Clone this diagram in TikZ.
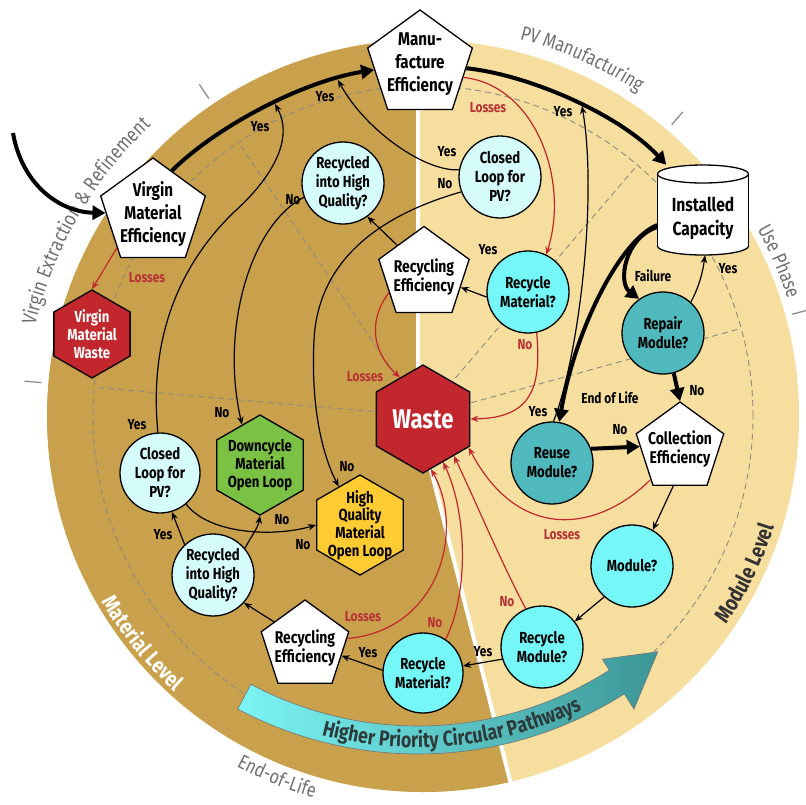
\documentclass[tikz,border=0pt]{standalone}
\usepackage{fontspec}
\setmainfont{Fira Sans}[FakeStretch=0.82]
\usetikzlibrary{shapes.geometric,arrows.meta,decorations.text,calc}
\definecolor{darkgold}{HTML}{C9A04C}
\definecolor{lightgold}{HTML}{F6DE9E}
\definecolor{lcyan}{HTML}{D6FBFB}
\definecolor{cyanc}{HTML}{75F7F7}
\definecolor{tealc}{HTML}{50B9BD}
\definecolor{redc}{HTML}{C1272D}
\definecolor{greenc}{HTML}{7BC143}
\definecolor{yellowc}{HTML}{FFCB33}
\definecolor{lossred}{HTML}{B83236}
\definecolor{outergray}{HTML}{707070}
\definecolor{dashgray}{HTML}{8C8C80}
\definecolor{bandL}{HTML}{7CF5F5}
\definecolor{bandR}{HTML}{3C9696}
\definecolor{bandtext}{HTML}{2E3A3A}
\definecolor{modtext}{HTML}{333333}
\begin{document}
\begin{tikzpicture}[x=1pt,y=-1pt,
  pent/.style={regular polygon,regular polygon sides=5,draw=black,fill=white,line width=1.3pt,inner sep=0pt},
  hexa/.style={regular polygon,regular polygon sides=6,shape border rotate=30,draw=black,line width=1.3pt,inner sep=0pt},
  qcirc/.style={circle,draw=black,line width=1.3pt,minimum size=82pt,inner sep=0pt},
  txt/.style={align=center,inner sep=0pt,font=\bfseries\fontsize{16}{19}\selectfont},
  ptxt/.style={align=center,inner sep=0pt,font=\bfseries\fontsize{17}{19.5}\selectfont},
  bigtxt/.style={align=center,inner sep=0pt,font=\bfseries\fontsize{18.5}{23}\selectfont},
  lab/.style={inner sep=0pt,font=\bfseries\fontsize{14.5}{16}\selectfont},
  loss/.style={lab,text=lossred},
  bigarr/.style={line width=4pt,-{Triangle[length=13pt,width=14pt]}},
  arr/.style={line width=1.2pt,-{Stealth[length=8pt,width=6.5pt]}},
  redarr/.style={arr,draw=redc},
  dashline/.style={draw=dashgray,line width=0.9pt,dash pattern=on 6pt off 4pt},
  tickmark/.style={draw=outergray!80,line width=1.3pt},
]
\useasboundingbox (0,0) rectangle (806,804);
\coordinate (ctr) at (423,416);
% background disc
\fill[lightgold] (ctr) circle[radius=376pt];
\begin{scope}
\clip (ctr) circle[radius=376pt];
\fill[darkgold] (0,0) -- (418,0) -- (418,419) -- (516,804) -- (0,804) -- cycle;
\end{scope}
\draw[white,line width=4pt] (418,0) -- (418,419) -- (516,804);
% dashed ring and spokes
\draw[dashline] (ctr) circle[radius=330pt];
\foreach \a in {-175,-124,-49.5,-15.4} {
  \draw[dashline] (ctr) -- ($(ctr)+(\a:330)$);
  \draw[tickmark] ($(ctr)+(\a:383)$) -- ($(ctr)+(\a:400)$);
}
% outer labels
\path[decorate,decoration={text along path,text align=center,
  text={|\fontsize{20.5}{24}\selectfont\color{outergray}|Virgin Extraction {\&} Refinement}}]
  plot[domain=-177:-123,samples=60] ({423+398*cos(\x)},{416+398*sin(\x)});
\path[decorate,decoration={text along path,text align=center,
  text={|\fontsize{20}{24}\selectfont\color{outergray}|PV Manufacturing}}]
  plot[domain=-92:-40,samples=60] ({423+389*cos(\x)},{416+389*sin(\x)});
\path[decorate,decoration={text along path,text align=center,
  text={|\fontsize{20}{24}\selectfont\color{outergray}|Use Phase}}]
  plot[domain=-40:-7,samples=40] ({423+383*cos(\x)},{416+383*sin(\x)});
\path[decorate,decoration={text along path,text align=center,
  text={|\fontsize{20}{24}\selectfont\color{outergray}|End-of-Life}}]
  plot[domain=130:94,samples=40] ({423+397*cos(\x)},{416+397*sin(\x)});
\path[decorate,decoration={text along path,text align=center,
  text={|\bfseries\fontsize{22}{26}\selectfont\color{white}|Material Level}}]
  plot[domain=165:117,samples=50] ({423+371*cos(\x)},{416+371*sin(\x)});
\path[decorate,decoration={text along path,text align=center,
  text={|\bfseries\fontsize{22}{26}\selectfont\color{modtext}|Module Level}}]
  plot[domain=48:4,samples=50] ({423+368*cos(\x)},{416+368*sin(\x)});
% priority band
\shadedraw[left color=bandL,right color=bandR,draw=black!55,line width=0.6pt]
  plot[domain=118:57.5,samples=50] ({418+356*cos(\x)},{370+356*sin(\x)})
  -- ({418+343*cos(57.5)},{370+343*sin(57.5)})
  -- ({418+370*cos(49.6)},{370+370*sin(49.6)})
  -- ({418+402*cos(57.5)},{370+402*sin(57.5)})
  -- plot[domain=57.5:118,samples=50] ({418+384*cos(\x)},{370+384*sin(\x)})
  -- cycle;
\path[decorate,decoration={text along path,text align=center,
  text={|\bfseries\fontsize{21.5}{24}\selectfont\color{bandtext}|Higher Priority Circular Pathways}}]
  plot[domain=112:57,samples=60] ({418+377.5*cos(\x)},{370+377.5*sin(\x)});
% pentagons
\node[pent,minimum size=110pt] (manu) at (420,65) {};
\node[bigtxt] (manu-t) at (420,64) {Manu-\\facture\\Efficiency};
\node[pent,minimum size=110pt] (virg) at (153,213) {};
\node[bigtxt] (virg-t) at (153,214) {Virgin\\Material\\Efficiency};
\node[pent,minimum size=95pt] (recU) at (424,274) {};
\node[ptxt] (recU-t) at (424,277) {Recycling\\Efficiency};
\node[pent,minimum size=92pt] (coll) at (680,448) {};
\node[ptxt] (coll-t) at (680,449) {Collection\\Efficiency};
\node[pent,minimum size=92pt] (recL) at (305,646) {};
\node[ptxt] (recL-t) at (305,648) {Recycling\\Efficiency};
% hexagons
\node[hexa,fill=redc,minimum size=108pt] (waste) at (423,419) {};
\node[inner sep=0pt,text=white,font=\bfseries\fontsize{27}{30}\selectfont] (waste-t) at (423,419) {Waste};
\node[hexa,fill=redc,minimum size=88pt] (vwaste) at (92,334) {};
\node[txt,text=white,font=\bfseries\fontsize{16}{18.3}\selectfont] (vwaste-t) at (92,334) {Virgin\\Material\\Waste};
\node[hexa,fill=greenc,minimum size=100pt] (down) at (260,465) {};
\node[txt,font=\bfseries\fontsize{16}{18.3}\selectfont] (down-t) at (260,465) {Downcycle\\Material\\Open Loop};
\node[hexa,fill=yellowc,minimum size=100pt] (hq) at (360,525) {};
\node[txt,font=\bfseries\fontsize{16}{17.8}\selectfont] (hq-t) at (360,525) {High\\Quality\\Material\\Open Loop};
% decision circles
\node[qcirc,fill=lcyan] (rhqU) at (343,183) {};
\node[txt] (rhqU-t) at (343,183) {Recycled\\into High\\Quality?};
\node[qcirc,fill=lcyan] (clU) at (500,177) {};
\node[txt] (clU-t) at (500,177) {Closed\\Loop for\\PV?};
\node[qcirc,fill=cyanc] (rmU) at (528,292) {};
\node[txt] (rmU-t) at (528,292) {Recycle\\Material?};
\node[qcirc,fill=tealc] (rep) at (663,333) {};
\node[txt] (rep-t) at (663,333) {Repair\\Module?};
\node[qcirc,fill=tealc] (reuse) at (552,463) {};
\node[txt] (reuse-t) at (552,463) {Reuse\\Module?};
\node[qcirc,fill=cyanc] (mod) at (632,566) {};
\node[txt] (mod-t) at (632,566) {Module?};
\node[qcirc,fill=cyanc] (rmod) at (542,647) {};
\node[txt] (rmod-t) at (542,647) {Recycle\\Module?};
\node[qcirc,fill=cyanc,minimum size=80pt] (rmL) at (423,673) {};
\node[txt] (rmL-t) at (423,673) {Recycle\\Material?};
\node[qcirc,fill=lcyan] (rhqL) at (213,575) {};
\node[txt] (rhqL-t) at (213,575) {Recycled\\into High\\Quality?};
\node[qcirc,fill=lcyan,minimum size=80pt] (clL) at (160,473) {};
\node[txt] (clL-t) at (160,473) {Closed\\Loop for\\PV?};
% installed capacity cylinder
\node[minimum width=91pt,minimum height=90pt,inner sep=0pt] (cap) at (703,210) {};
\filldraw[fill=white,draw=black,line width=1.3pt] (703,246) ellipse[x radius=45.5pt,y radius=9pt];
\fill[white] (657.5,174) rectangle (748.5,246);
\draw[line width=1.3pt] (657.5,174) -- (657.5,246) (748.5,174) -- (748.5,246);
\filldraw[fill=white,draw=black,line width=1.3pt] (703,174) ellipse[x radius=45.5pt,y radius=9pt];
\node[align=center,inner sep=0pt,font=\bfseries\fontsize{19}{24}\selectfont] (cap-t) at (703,218) {Installed\\Capacity};
% junction points on main flow
\coordinate (in0) at (13,133);
\coordinate (j1) at (275,104);
\coordinate (j2) at (338,80);
\coordinate (j3) at (582,106);
% thick main flow
\draw[bigarr] (in0) .. controls (22,185) and (60,212) .. (virg.180);
\draw[bigarr] (virg.66) .. controls (215,128) and (300,82) .. (manu.186);
\draw[bigarr] (manu.-4) .. controls (530,75) and (620,115) .. ([xshift=9pt]cap.north west);
\draw[bigarr] ([yshift=-15pt]cap.west) .. controls (620,240) and (575,330) .. (reuse.80);
\draw[bigarr] ([yshift=-17pt]cap.west) .. controls (624,238) and (618,283) .. (rep.125);
\draw[bigarr] (rep.-75) -- (coll.90);
\draw[bigarr] (reuse.20) -- (coll.178);
% thin black arrows
\draw[arr] (rep.48) .. controls (700,285) and (703,270) .. ([xshift=2pt]cap.south);
\draw[arr] (coll.-100) -- (mod.60);
\draw[arr] (mod.228) -- (rmod.38);
\draw[arr] (rmod.197) -- (rmL.10);
\draw[arr] (rmL.176) -- (recL.-15);
\draw[arr] (recL.142) -- (rhqL.-42);
\draw[arr] (rhqL.133) -- (clL.-73);
\draw[arr] (rhqL.40) .. controls (252,535) and (258,528) .. (down.-90);
\draw[arr] (clL.-50) .. controls (210,535) and (275,537) .. (hq.180);
\draw[arr] (clL.93) .. controls (148,330) and (185,260) .. (233,213) .. controls (270,180) and (295,140) .. (j1);
\draw[arr] (rhqU.200) .. controls (250,225) and (220,330) .. (down.114);
\draw[arr] (clU.201) .. controls (380,215) and (318,260) .. (314,340) .. controls (311,400) and (320,450) .. (hq.119);
\draw[arr] (clU.170) .. controls (425,172) and (365,130) .. (j2);
\draw[arr] (recU.133) -- (rhqU.-54);
\draw[arr] (rmU.187) -- (recU.-20);
\draw[arr] (reuse.88) .. controls (578,360) and (598,200) .. (j3);
% red loss arrows
\draw[redarr] (virg.224) -- (vwaste.90);
\draw[redarr] (manu.-16) .. controls (535,85) and (570,180) .. (rmU.64);
\draw[redarr] (recU.208) .. controls (368,320) and (372,352) .. (waste.119);
\draw[redarr] (rmU.-78) .. controls (542,390) and (530,418) .. (waste.0);
\draw[redarr] (coll.227) .. controls (600,530) and (520,545) .. (waste.-32);
\draw[redarr] (rmod.113) .. controls (500,560) and (475,500) .. (waste.-50);
\draw[redarr] (rmL.56) .. controls (470,590) and (466,510) .. (waste.-65);
\draw[redarr] (recL.10) .. controls (440,630) and (465,530) .. (waste.-81);
% labels
\node[lab] (l1) at (260,127) {Yes};
\node[lab] (l2) at (325,97) {Yes};
\node[lab] (l3) at (293,200) {No};
\node[lab] (l4) at (447,152) {Yes};
\node[lab] (l5) at (445,184) {No};
\node[loss] (l6) at (488,108) {Losses};
\node[lab] (l7) at (563,112) {Yes};
\node[lab] (l8) at (488,250) {Yes};
\node[loss] (l9) at (525,345) {No};
\node[loss] (l10) at (147,278) {Losses};
\node[loss] (l11) at (365,377) {Losses};
\node[lab] (l12) at (653,276) {Failure};
\node[lab] (l13) at (728,269) {Yes};
\node[lab] (l14) at (697,391) {No};
\node[lab] (l15) at (610,398) {End of Life};
\node[lab] (l16) at (620,430) {No};
\node[lab] (l17) at (538,412) {Yes};
\node[loss] (l18) at (562,535) {Losses};
\node[loss] (l19) at (507,602) {No};
\node[loss] (l20) at (435,623) {No};
\node[lab] (l21) at (483,652) {Yes};
\node[lab] (l22) at (368,653) {Yes};
\node[loss] (l23) at (363,617) {Losses};
\node[lab] (l24) at (163,535) {Yes};
\node[lab] (l25) at (282,520) {No};
\node[lab] (l26) at (303,545) {No};
\node[lab] (l27) at (137,425) {Yes};
\node[lab] (l28) at (222,413) {No};
\node[lab] (l29) at (347,467) {No};
\end{tikzpicture}
\end{document}
